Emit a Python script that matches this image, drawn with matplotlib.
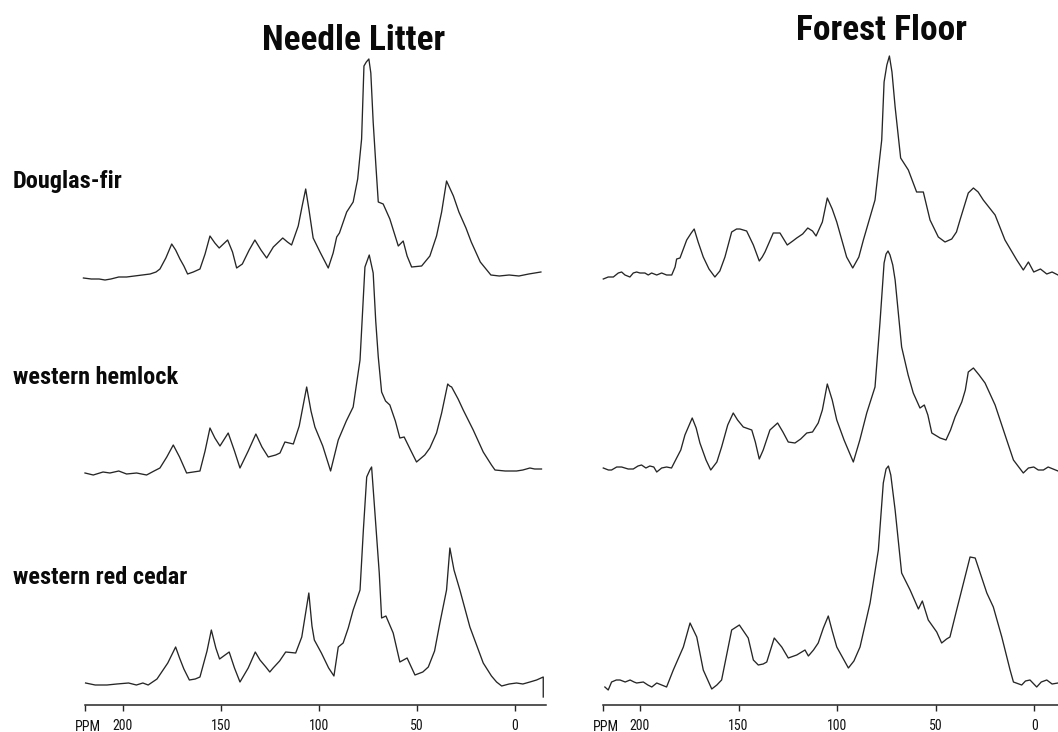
import matplotlib
matplotlib.use("Agg")
import matplotlib.pyplot as plt

plt.rcParams['font.family'] = ['Liberation Sans', 'DejaVu Sans']

# ---------------- data: (ppm, relative intensity) ----------------
TICK_PPM = [200, 150, 100, 50, 0]
TICK_LABELS = ['200', '150', '100', '50', '0']
PANEL_TITLES = ['Needle Litter', 'Forest Floor']
SPECIES = ['Douglas-fir', 'western hemlock', 'western red cedar']

NL_DOUGLAS = [(220, 0), (216, -1), (212, -1), (209, -2), (206, -1), (202, 1), (198, 1), (194, 2), (190, 3),
              (186, 4), (183, 6), (181, 9), (178, 20), (175, 34), (173, 28), (170.8, 19), (168.8, 12),
              (166.9, 4), (164, 6), (160.6, 9), (158, 24), (155.5, 42), (153, 35), (150.8, 30), (146.5, 38),
              (144, 26), (141.9, 10), (139, 14), (135.5, 28), (132.6, 38), (129.5, 28), (126.6, 20),
              (123.2, 31), (118.4, 40), (116, 36), (113.9, 33), (110.5, 52), (108.5, 72), (106.7, 89),
              (105, 68), (102.9, 40), (99.4, 26), (95.2, 10), (92.7, 25), (90.9, 41), (89.5, 45), (85.8, 66),
              (82.5, 76), (80.2, 99), (78.2, 139), (77, 212), (75.8, 216), (74.5, 219), (73.5, 205),
              (72.3, 156), (70.9, 112), (69.7, 76), (67.2, 74), (63.8, 59), (59.5, 32), (57, 37), (55, 22),
              (52.7, 11), (47.6, 12), (43.4, 22), (40, 42), (37.4, 66), (34.9, 97), (33.5, 91), (31.4, 82),
              (28.6, 66), (25, 50), (22.3, 36), (17.7, 16), (12.3, 3), (8, 2), (3, 3), (-2, 2), (-7, 4),
              (-13.2, 6)]

NL_HEMLOCK = [(219.2, -2), (215, -4), (210, -1), (206.5, -2), (202, 0), (198, -3), (192.9, -2), (187.8, -4),
              (184, 0), (181, 3), (177.5, 14), (174.2, 26), (171, 14), (167.4, -2), (164, -1), (160.6, 0),
              (158, 20), (155.5, 43), (153, 33), (150.4, 25), (146.2, 38), (143, 20), (140.2, 3), (136, 20),
              (132.1, 37), (129, 24), (125.8, 14), (122, 16), (119.8, 18), (117.3, 29), (113, 27), (110, 45),
              (106.2, 84), (104, 60), (102, 44), (98, 25), (94, 0), (90.1, 31), (86, 50), (82.5, 64),
              (79, 111), (76.5, 204), (74.3, 216), (72.3, 198), (71, 150), (69.7, 114), (68, 79), (66, 70),
              (63.8, 66), (61, 50), (58.7, 33), (56.5, 34), (53, 20), (50.2, 9), (46, 16), (43.4, 23),
              (40, 38), (37.4, 58), (34.3, 87), (33.3, 85), (32.3, 84), (29, 72), (26.4, 61), (21.3, 41),
              (16.2, 19), (12, 6), (10.2, 1), (5, 0), (-0.8, 0), (-4, 1), (-7.6, 3), (-10, 2), (-13.5, 2)]

NL_CEDAR = [(218.9, 3), (214, 1), (208, 1), (203, 2), (197, 3), (193, 1), (189.7, 3), (187, 1), (182.5, 7),
            (177, 23), (173, 39), (171, 28), (168.8, 17), (166, 6), (163, 7), (160.6, 9), (157, 35),
            (154.8, 56), (152.5, 38), (150.6, 27), (145.7, 34), (143, 18), (140.2, 4), (136, 18), (132.4, 34),
            (130, 26), (127, 19), (125, 14), (123.3, 18), (120, 25), (116.9, 34), (111.8, 33), (108.7, 49),
            (105.1, 93), (103.5, 60), (102.3, 46), (98.7, 33), (95, 18), (92.3, 10), (90.1, 39), (87.6, 43),
            (85, 58), (82.5, 76), (79, 96), (77.3, 156), (75.6, 209), (74, 216), (73.1, 219), (71.4, 173),
            (69.2, 113), (68, 68), (65.8, 70), (62.1, 53), (58.7, 24), (55, 28), (51, 11), (47, 14),
            (44.2, 19), (41, 35), (38.3, 63), (34.9, 96), (33.2, 138), (31.1, 116), (28.1, 96), (23, 59),
            (16.2, 23), (12, 10), (9.4, 4), (6.8, 0), (3, 2), (-0.8, 3), (-4, 2), (-7.6, 4), (-11, 6),
            (-14.4, 9), (-14.4, -11)]

FF_DOUGLAS = [(218.6, -2), (216.1, 0), (213.5, 0), (211.0, 4), (209.3, 5), (207.6, 2), (205.1, 0),
              (203.4, 4), (201.7, 5), (200.0, 4), (197.5, 4), (195.8, 2), (194.1, 4), (191.5, 2), (189.0, 4),
              (186.5, 2), (183.9, 2), (182.2, 10), (181.4, 18), (179.7, 19), (176.3, 37), (174.0, 44),
              (172.5, 48), (170.5, 35), (167.9, 20), (165.0, 8), (162.0, 0), (159.5, 6), (156.9, 20),
              (153.5, 45), (151.0, 48), (149.3, 48), (145.9, 46), (142.5, 32), (139.5, 16), (138.0, 20),
              (136.6, 25), (132.4, 44), (129.0, 44), (125.3, 32), (122.5, 36), (120.5, 39), (117.5, 43),
              (114.9, 49), (112.5, 46), (110.7, 41), (107.5, 55), (105.0, 79), (102.5, 68), (100.2, 55),
              (95.2, 20), (92.1, 9), (89.0, 20), (86.7, 37), (80.8, 77), (77.4, 137), (76.2, 195),
              (74.8, 212), (73.5, 221), (72.2, 205), (70.6, 170), (67.8, 119), (63.9, 107), (59.7, 85),
              (56.3, 85), (52.9, 57), (48.7, 40), (45.3, 35), (41.9, 38), (39.5, 45), (37.7, 57), (33.5, 84),
              (30.9, 89), (28.5, 85), (25.9, 77), (19.9, 62), (14.9, 37), (8.9, 17), (5.6, 7), (3.0, 15),
              (0.3, 5), (-3.1, 8), (-6.3, 3), (-9.0, 5), (-12.0, 2)]

FF_HEMLOCK = [(218.6, 2), (216, 0), (214.4, 0), (211.8, 3), (209.3, 3), (206, 1), (203.4, 1), (201, 4),
              (199.2, 5), (197, 2), (195, 4), (193, 3), (191.5, -2), (189, 2), (186.5, 3), (184, 2),
              (181.4, 12), (179.3, 20), (177.2, 35), (173.5, 52), (171.5, 42), (169.6, 27), (166.5, 10),
              (164.1, 0), (161, 8), (158.6, 23), (155.5, 45), (152.7, 57), (150.5, 50), (147.6, 43),
              (143.3, 40), (141.5, 28), (139.5, 11), (137.5, 20), (134.1, 40), (130.2, 47), (127.5, 38),
              (124.8, 28), (121.4, 27), (118.5, 31), (115.4, 37), (112.5, 38), (109.6, 47), (107.5, 60),
              (105, 86), (102.5, 70), (100.2, 50), (96.5, 30), (91.8, 8), (88.5, 30), (85, 57), (80.8, 83),
              (78.3, 147), (76.2, 207), (75.2, 216), (74.2, 219), (73.2, 215), (71.8, 205), (70.6, 190),
              (67.3, 123), (64, 95), (61.4, 77), (58, 62), (55.8, 65), (54, 55), (52, 37), (47.8, 32),
              (44.8, 30), (42.5, 40), (40.2, 53), (36.8, 68), (35, 80), (33.5, 98), (30.9, 102), (28, 95),
              (25, 87), (19.9, 65), (14, 30), (10.6, 10), (5.6, -3), (3, 2), (0.3, 3), (-2, 0), (-4.6, 0),
              (-7, 3), (-9.5, 1), (-12, -1)]

FF_CEDAR = [(217.8, -4), (216.1, -7), (214.4, 1), (212, 3), (210.1, 3), (207.5, 1), (205, 3), (203, 1),
            (201.7, 0), (198.3, 1), (196, -2), (194, -4), (191.5, 0), (189, -2), (186.5, -4), (183.1, 13),
            (178, 36), (174.6, 60), (171.2, 46), (167.9, 13), (163.6, -6), (161, -2), (158.6, 3),
            (153.5, 53), (149.6, 58), (145.1, 45), (142.5, 23), (140, 18), (137.5, 19), (135.7, 21),
            (131.9, 45), (128.1, 36), (124.8, 25), (120.5, 28), (116.3, 33), (114.6, 27), (112, 33),
            (109.6, 40), (107, 55), (104.5, 67), (102.5, 52), (100.2, 36), (94.3, 15), (91.5, 22),
            (88.4, 36), (83.3, 80), (79.1, 133), (76.6, 200), (75.2, 214), (74, 217), (72.8, 208),
            (70.6, 173), (67.3, 110), (63, 93), (58.8, 74), (56.8, 82), (53.8, 63), (49.5, 51), (47, 40),
            (44.5, 44), (42.8, 46), (39.4, 73), (32.6, 126), (30, 125), (24.1, 90), (20.8, 76), (16.5, 46),
            (12.3, 13), (10.6, 1), (6.4, -2), (4.5, 2), (2.2, 3), (-1.2, -4), (-3.5, 1), (-6.3, 3),
            (-9, -1), (-12, 0)]

# ---------------- layout (pixels of the 1058 x 732 canvas) ----------------
W, H = 1058, 732
AX_Y = 705
fig = plt.figure(figsize=(W / 100, H / 100), dpi=100)

COND_FAMILY = ['Roboto Condensed', 'DejaVu Sans Condensed', 'Liberation Sans Narrow', 'Liberation Sans',
               'DejaVu Sans']

panels = [
    dict(spectra=[NL_DOUGLAS, NL_HEMLOCK, NL_CEDAR], x0=85, x1=546, xlim=(219.2, -15.8),
         baselines=[278, 471, 686], title_xy=(354, 50), ppm_x=88),
    dict(spectra=[FF_DOUGLAS, FF_HEMLOCK, FF_CEDAR], x0=602.7, x1=1058, xlim=(218.9, -12.0),
         baselines=[277, 470, 683], title_xy=(881, 40), ppm_x=606),
]

LINE_COLOR = '#262626'
TEXT_COLOR = '#0a0a0a'

for title, p in zip(PANEL_TITLES, panels):
    ax = fig.add_axes([p['x0'] / W, 1 - AX_Y / H, (p['x1'] - p['x0']) / W, AX_Y / H])
    ax.set_xlim(*p['xlim'])
    ax.set_ylim(0, AX_Y)
    for spec, base in zip(p['spectra'], p['baselines']):
        xs = [pt[0] for pt in spec]
        ys = [AX_Y - base + pt[1] for pt in spec]
        ax.plot(xs, ys, color=LINE_COLOR, lw=0.95, clip_on=False, solid_joinstyle='round')
    for s in ['top', 'left', 'right']:
        ax.spines[s].set_visible(False)
    ax.spines['bottom'].set_linewidth(1.1)
    ax.spines['bottom'].set_color(LINE_COLOR)
    ax.set_yticks([])
    ax.set_xticks([p['xlim'][0]] + TICK_PPM)
    ax.set_xticklabels([''] + TICK_LABELS)
    ax.tick_params(axis='x', direction='out', length=4.5, width=1.0, color=LINE_COLOR,
                   labelsize=10, pad=5.5, labelcolor='#111111')
    for lab in ax.get_xticklabels():
        lab.set_family(COND_FAMILY)
    ax.patch.set_alpha(0)
    tx, ty = p['title_xy']
    fig.text(tx / W, 1 - ty / H, title, ha='center', va='baseline', fontsize=25.5,
             fontweight='bold', family=COND_FAMILY, color=TEXT_COLOR)
    fig.text(p['ppm_x'] / W, 1 - 731 / H, 'PPM', ha='center', va='baseline', fontsize=10,
             family=COND_FAMILY, color='#111111')

label_baselines = [188, 384, 584]
for name, yb in zip(SPECIES, label_baselines):
    fig.text(13 / W, 1 - yb / H, name, ha='left', va='baseline', fontsize=17.5, fontweight='bold',
             family=COND_FAMILY, color=TEXT_COLOR)

fig.savefig('out.png', dpi=100)
